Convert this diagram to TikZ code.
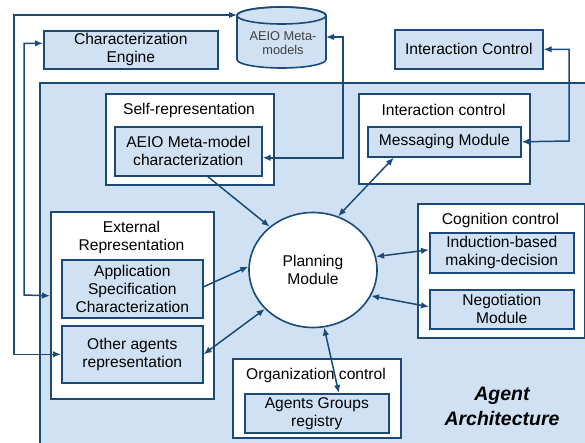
\documentclass[tikz,border=0pt]{standalone}
\usepackage{fontspec}
\setmainfont{Liberation Sans}
\usetikzlibrary{arrows.meta,shapes.geometric}
\definecolor{bfill}{HTML}{CFE1F2}
\definecolor{bline}{HTML}{1B4A78}
\definecolor{cyltext}{HTML}{404040}
\begin{document}
\begin{tikzpicture}[x=1pt,y=-1pt,
  >={Latex[length=8pt,width=6.5pt]},
  txt/.style={font=\fontsize{15.6}{18}\selectfont, align=center, inner sep=0pt, text=black},
  blk/.style={txt, draw=bline, fill=bfill, line width=1.6pt, anchor=north west},
  grp/.style={draw=bline, fill=white, line width=1.6pt, anchor=north west, inner sep=0pt},
  conn/.style={draw=bline, line width=1.5pt},
]
\useasboundingbox[fill=white] (0,0) rectangle (585,443);
% outer agent architecture
\node[grp, fill=bfill, minimum width=570pt, minimum height=390pt] (arch) at (39,82) {};
% cylinder
\node[inner sep=0pt, minimum width=89pt, minimum height=61pt, anchor=north west] (cyl) at (237,7) {};
\path[fill=bfill, draw=bline, line width=1.6pt] (237,15.5) -- (237,59.5)
  arc[start angle=180, end angle=0, x radius=44.5, y radius=8.5] -- (326,15.5)
  arc[start angle=0, end angle=-180, x radius=44.5, y radius=8.5] -- cycle;
\draw[bline, line width=1.6pt] (281.5,15.5) ellipse[x radius=44.5, y radius=8.5];
\node[txt, font=\fontsize{12.8}{13.5}\selectfont, text=cyltext] (cyltxt) at (283,43) {AEIO Meta-\\models};
\coordinate (cylTL) at (237,15);
\coordinate (cylR) at (326,37);
% top boxes
\node[blk, minimum width=174pt, minimum height=38pt] (eng) at (43,30) {Characterization\\Engine};
\node[blk, minimum width=148pt, minimum height=39pt] (ictl) at (394,29) {Interaction Control};
% groups
\node[grp, minimum width=168pt, minimum height=91pt] (selfgrp) at (105,93) {};
\node[txt] (selft) at (189,110) {Self-representation};
\node[blk, minimum width=147pt, minimum height=49pt] (metachar) at (114,126) {AEIO Meta-model\\characterization};
\node[grp, minimum width=171pt, minimum height=90pt] (intgrp) at (358,93) {};
\node[txt] (intt) at (443.5,110) {Interaction control};
\node[blk, minimum width=153pt, minimum height=30pt] (msg) at (367,126) {Messaging Module};
\node[grp, minimum width=163pt, minimum height=187pt] (extgrp) at (50,211) {};
\node[txt] (extt) at (131.5,237) {External\\Representation};
\node[blk, minimum width=141pt, minimum height=58pt] (app) at (61,259) {Application\\Specification\\Characterization};
\node[blk, minimum width=141pt, minimum height=57pt] (other) at (61,325) {Other agents\\representation};
\node[grp, minimum width=167pt, minimum height=134pt] (coggrp) at (417,203) {};
\node[txt] (cogt) at (500.5,220) {Cognition control};
\node[blk, minimum width=144pt, minimum height=40pt] (ind) at (429,232) {Induction-based\\making-decision};
\node[blk, minimum width=144pt, minimum height=39pt] (neg) at (429,289) {Negotiation\\Module};
\node[grp, minimum width=168pt, minimum height=79pt] (orggrp) at (232,358) {};
\node[txt] (orgt) at (316,375) {Organization control};
\node[blk, minimum width=144pt, minimum height=39pt] (agr) at (244,393) {Agents Groups\\registry};
% planning
\node[ellipse, draw=bline, fill=white, line width=1.6pt, minimum width=128pt, minimum height=115pt, txt] (plan) at (313,270) {Planning\\Module};
\node[txt, font=\fontsize{19.5}{25}\bfseries\itshape\selectfont] (aa) at (502,406) {Agent\\Architecture};
% connectors
\draw[conn, <->] (other.west) -| (14,15) -- (cylTL);
\draw[conn, <->] ([yshift=6.5pt]eng.west) -| (24,295) -- ([yshift=9.5pt]extgrp.west);
\draw[conn, <->] ([yshift=-6.5pt]metachar.east) -| (343,37) -- (cylR);
\draw[conn, <->] (ictl.east) -| (569,141) -- (msg.east);
\draw[conn, ->] ([xshift=19.5pt]metachar.south) -- (plan.135);
\draw[conn, <->] ([xshift=-50.5pt]msg.south) -- (plan.65);
\draw[conn, ->] ([yshift=2pt]app.east) -- (plan.177);
\draw[conn, <->] (other.east) -- (plan.219);
\draw[conn, <->] (plan.12) -- ([yshift=3pt]ind.west);
\draw[conn, <->] (plan.-24) -- ([yshift=2.5pt]neg.west);
\draw[conn, <->] (plan.-79) -- ([xshift=22pt]agr.north);
\end{tikzpicture}
\end{document}
